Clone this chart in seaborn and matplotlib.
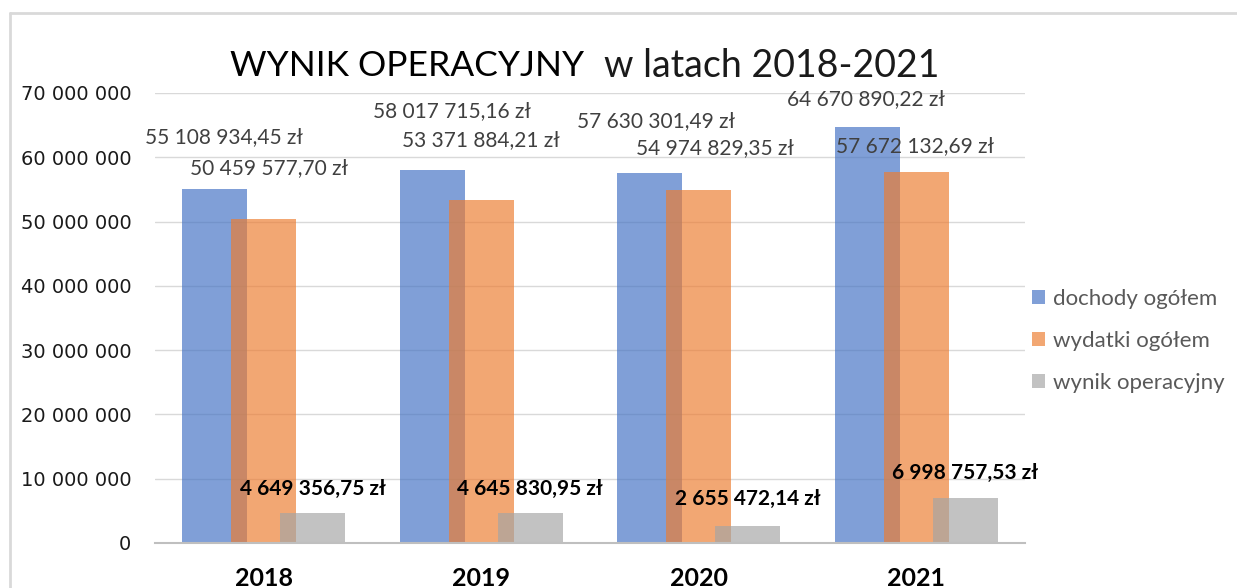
import matplotlib
matplotlib.use('Agg')
import matplotlib.pyplot as plt
from matplotlib.lines import Line2D
from matplotlib.ticker import FuncFormatter
import numpy as np
import pandas as pd
import seaborn as sns


lata = ['2018', '2019', '2020', '2021']
dochody = [55108934.45, 58017715.16, 57630301.49, 64670890.22]
wydatki = [50459577.70, 53371884.21, 54974829.35, 57672132.69]
wynik = [4649356.75, 4645830.95, 2655472.14, 6998757.53]
serie = ['dochody ogółem', 'wydatki ogółem', 'wynik operacyjny']

sns.set_theme(style='white')
plt.rcParams['font.family'] = ['Lato', 'DejaVu Sans']


def zl(v):
    s = f"{v:,.2f}".replace(',', ' ').replace('.', ',')
    return s + ' zł'


kolory = ['#4472C4', '#ED7D31', '#A5A5A5']
przesun = [-0.225, 0.0, 0.225]
# label offsets in pixels (dx, dy) from the bar top, as in the excel original
off_lab = [
    [(9, 52), (20, 59), (6, 51), (-1, 28)],
    [(5, 51), (0, 60), (16, 41), (-1, 26)],
    [(0, 24), (0, 24), (0, 27), (0, 25)],
]

fig = plt.figure(figsize=(12.37, 5.88), dpi=100)
ax = fig.add_axes([155 / 1237, 1 - 543 / 588, 870 / 1237, 450 / 588])

idx = np.arange(len(lata))
for i, (nazwa, wart) in enumerate(zip(serie, [dochody, wydatki, wynik])):
    df = pd.DataFrame({'poz': idx + przesun[i], 'wartosc': wart})
    sns.barplot(data=df, x='poz', y='wartosc', native_scale=True, width=0.3,
                color=kolory[i], saturation=1, alpha=0.68, linewidth=0,
                errorbar=None, label=nazwa, ax=ax, zorder=2)
    for j, v in enumerate(wart):
        dx, dy = off_lab[i][j]
        if i < 2:
            ax.annotate(zl(v), xy=(idx[j] + przesun[i], v), xytext=(dx, dy),
                        textcoords='offset pixels', ha='center', va='center',
                        fontsize=15, color='#404040')
        else:
            ax.annotate(zl(v), xy=(idx[j] + przesun[i], v), xytext=(dx, dy),
                        textcoords='offset pixels', ha='center', va='center',
                        fontsize=15, fontweight='bold', color='black')

ax.set_xlim(-0.5, 3.5)
ax.set_ylim(0, 70e6)
ax.set_yticks(np.arange(0, 70e6 + 1, 10e6))
ax.yaxis.set_major_formatter(FuncFormatter(lambda v, p: f"{v:,.0f}".replace(',', ' ')))
ax.set_xticks(idx)
ax.set_xticklabels(lata, fontsize=18, fontweight='bold', color='black')
ax.tick_params(axis='y', labelsize=14, colors='#1a1a1a', pad=17, length=0)
ax.tick_params(axis='x', pad=17, length=0)
for lab in ax.get_yticklabels():
    lab.set_fontfamily('DejaVu Sans')
ax.set_xlabel('')
ax.set_ylabel('')
ax.grid(axis='y', color='#d9d9d9', linewidth=1, zorder=0)
ax.grid(axis='x', visible=False)
ax.set_axisbelow(True)
for s in ['left', 'right', 'top']:
    ax.spines[s].set_visible(False)
ax.spines['bottom'].set_color('#bfbfbf')
ax.spines['bottom'].set_linewidth(1.5)
if ax.legend_:
    ax.legend_.remove()

h, l = ax.get_legend_handles_labels()
fig.legend(h, l, loc='center left', bbox_to_anchor=(1012 / 1237, 1 - 341 / 588),
           frameon=False, fontsize=16, labelcolor='#595959', handlelength=0.6,
           handleheight=0.6, handletextpad=0.35, labelspacing=1.0)

fig.text(584 / 1237, 1 - 66 / 588, 'WYNIK OPERACYJNY', ha='right', va='center',
         fontsize=25.5, color='black')
fig.text(604 / 1237, 1 - 66 / 588, 'w latach 2018-2021', ha='left', va='center',
         fontsize=27, color='#1a1a1a')

# ramka wykresu jak w excelu
fig.add_artist(Line2D([10 / 1237, 10 / 1237], [0, 1 - 13 / 588], color='#d9d9d9', lw=2))
fig.add_artist(Line2D([10 / 1237, 1], [1 - 13 / 588, 1 - 13 / 588], color='#d9d9d9', lw=2))

fig.savefig('out.png', dpi=100)
